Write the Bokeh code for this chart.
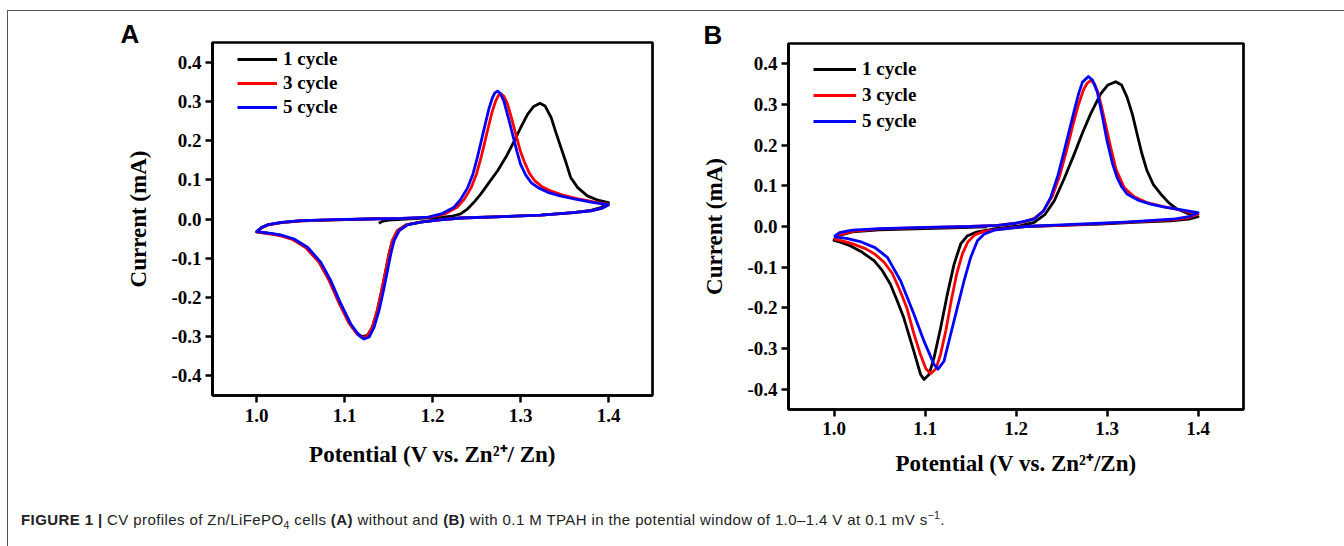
from bokeh.plotting import figure
from bokeh.layouts import column, row
from bokeh.models import FixedTicker, Div, InlineStyleSheet
from bokeh.embed import file_html
from bokeh.resources import INLINE

# ---------------- data ----------------
x_ticks = [1.0, 1.1, 1.2, 1.3, 1.4]
x_tick_labels = ["1.0", "1.1", "1.2", "1.3", "1.4"]
y_ticks = [-0.4, -0.3, -0.2, -0.1, 0.0, 0.1, 0.2, 0.3, 0.4]
y_tick_labels = ["-0.4", "-0.3", "-0.2", "-0.1", "0.0", "0.1", "0.2", "0.3", "0.4"]
series_names = ["1 cycle", "3 cycle", "5 cycle"]
series_colors = ["#000000", "#ff0000", "#0000ff"]

# Panel A (without TPAH)
a1_v = [1.139, 1.143, 1.150, 1.165, 1.190, 1.210, 1.222, 1.232, 1.240, 1.248, 1.255, 1.264, 1.274, 1.284,
        1.293, 1.300, 1.308, 1.315, 1.322, 1.328, 1.335, 1.340, 1.346, 1.352, 1.357, 1.365, 1.376, 1.388,
        1.400, 1.392, 1.380, 1.360, 1.323, 1.280, 1.232, 1.208, 1.186, 1.170, 1.160, 1.1544, 1.1506, 1.1469,
        1.1423, 1.1373, 1.1316, 1.126, 1.120, 1.1146, 1.105, 1.0938, 1.0824, 1.071, 1.056, 1.0407, 1.028,
        1.018, 1.008, 1.000, 1.006, 1.013, 1.028, 1.051, 1.089, 1.127, 1.140]
a1_i = [-0.011, -0.006, -0.003, -0.001, 0.002, 0.004, 0.007, 0.013, 0.026, 0.045, 0.064, 0.092, 0.123, 0.160,
        0.199, 0.232, 0.267, 0.287, 0.295, 0.288, 0.258, 0.222, 0.182, 0.142, 0.106, 0.080, 0.059, 0.048,
        0.042, 0.030, 0.022, 0.016, 0.010, 0.006, 0.0025, -0.002, -0.008, -0.015, -0.030, -0.055, -0.089, -0.131,
        -0.182, -0.233, -0.276, -0.297, -0.300, -0.292, -0.264, -0.213, -0.155, -0.109, -0.072, -0.051, -0.042,
        -0.038, -0.035, -0.033, -0.022, -0.015, -0.009, -0.0045, -0.002, 0.000, 0.001]

a3_v = [1.000, 1.006, 1.013, 1.028, 1.051, 1.089, 1.127, 1.165, 1.198, 1.214, 1.228, 1.236, 1.244, 1.250,
        1.255, 1.259, 1.263, 1.268, 1.272, 1.275, 1.278, 1.281, 1.285, 1.290, 1.295, 1.300, 1.304, 1.310,
        1.316, 1.324, 1.335, 1.348, 1.364, 1.382, 1.400, 1.392, 1.380, 1.360, 1.323, 1.280, 1.232, 1.208,
        1.186, 1.170, 1.160, 1.1544, 1.1506, 1.1469, 1.1423, 1.1373, 1.1316, 1.126, 1.1203, 1.1146, 1.105,
        1.0938, 1.0824, 1.071, 1.056, 1.0407, 1.028, 1.018, 1.008, 1.000]
a3_i = [-0.033, -0.022, -0.015, -0.009, -0.0045, -0.002, 0.000, 0.0015, 0.005, 0.013, 0.030, 0.050, 0.080, 0.115,
        0.155, 0.192, 0.230, 0.275, 0.302, 0.315, 0.319, 0.313, 0.295, 0.256, 0.213, 0.172, 0.148, 0.117,
        0.098, 0.083, 0.071, 0.061, 0.052, 0.044, 0.037, 0.027, 0.021, 0.016, 0.010, 0.006, 0.0025, -0.002,
        -0.008, -0.015, -0.030, -0.055, -0.089, -0.131, -0.182, -0.233, -0.276, -0.299, -0.302, -0.294, -0.265,
        -0.214, -0.156, -0.110, -0.073, -0.052, -0.043, -0.039, -0.036, -0.033]

a5_v = [1.000, 1.006, 1.013, 1.028, 1.051, 1.089, 1.127, 1.165, 1.195, 1.210, 1.2245, 1.232, 1.240, 1.246,
        1.251, 1.255, 1.259, 1.264, 1.268, 1.271, 1.274, 1.277, 1.281, 1.286, 1.291, 1.296, 1.300, 1.306,
        1.312, 1.320, 1.331, 1.345, 1.361, 1.380, 1.400, 1.392, 1.380, 1.360, 1.323, 1.280, 1.232, 1.208,
        1.1867, 1.1716, 1.162, 1.1564, 1.1526, 1.1489, 1.1443, 1.1393, 1.1336, 1.128, 1.1223, 1.1166, 1.107,
        1.0958, 1.0844, 1.073, 1.058, 1.0427, 1.030, 1.020, 1.010, 1.000]
a5_i = [-0.032, -0.021, -0.0145, -0.0086, -0.004, -0.0017, 0.000, 0.0017, 0.005, 0.013, 0.030, 0.050, 0.080, 0.115,
        0.157, 0.195, 0.233, 0.280, 0.309, 0.322, 0.326, 0.320, 0.301, 0.260, 0.216, 0.172, 0.140, 0.112,
        0.093, 0.080, 0.068, 0.059, 0.051, 0.043, 0.036, 0.027, 0.021, 0.016, 0.010, 0.006, 0.0025, -0.002,
        -0.008, -0.015, -0.030, -0.055, -0.089, -0.131, -0.182, -0.233, -0.276, -0.301, -0.306, -0.297, -0.267,
        -0.216, -0.157, -0.110, -0.072, -0.051, -0.042, -0.038, -0.035, -0.032]

# Panel B (with 0.1 M TPAH)
b1_v = [1.168, 1.175, 1.190, 1.205, 1.220, 1.232, 1.242, 1.253, 1.264, 1.273, 1.282, 1.293, 1.301, 1.3096,
        1.316, 1.322, 1.328, 1.333, 1.338, 1.344, 1.351, 1.359, 1.368, 1.377, 1.390, 1.400, 1.390, 1.370,
        1.330, 1.293, 1.250, 1.210, 1.190, 1.1685, 1.1575, 1.1465, 1.1392, 1.1319, 1.1245, 1.1172, 1.1099,
        1.1044, 1.0989, 1.0952, 1.0876, 1.0766, 1.069, 1.062, 1.053, 1.044, 1.030, 1.0183, 1.008, 1.000,
        1.006, 1.020, 1.050, 1.100, 1.150, 1.168]
b1_i = [-0.010, -0.006, -0.002, 0.002, 0.010, 0.030, 0.063, 0.118, 0.178, 0.230, 0.277, 0.326, 0.348, 0.356,
        0.348, 0.318, 0.275, 0.228, 0.182, 0.137, 0.103, 0.080, 0.058, 0.043, 0.031, 0.024, 0.018, 0.014,
        0.010, 0.006, 0.003, 0.000, -0.003, -0.009, -0.013, -0.023, -0.043, -0.093, -0.167, -0.249, -0.323,
        -0.364, -0.376, -0.364, -0.306, -0.224, -0.180, -0.142, -0.108, -0.084, -0.062, -0.048, -0.039, -0.034,
        -0.022, -0.013, -0.008, -0.005, -0.002, -0.001]

b3_v = [1.000, 1.006, 1.020, 1.050, 1.100, 1.150, 1.180, 1.200, 1.210, 1.220, 1.230, 1.240, 1.248, 1.256,
        1.262, 1.268, 1.274, 1.278, 1.282, 1.286, 1.290, 1.294, 1.299, 1.304, 1.310, 1.319, 1.330, 1.345,
        1.362, 1.380, 1.400, 1.390, 1.375, 1.350, 1.320, 1.293, 1.250, 1.210, 1.180, 1.165, 1.155, 1.147,
        1.141, 1.135, 1.129, 1.123, 1.117, 1.112, 1.1062, 1.101, 1.095, 1.088, 1.080, 1.072, 1.064, 1.055,
        1.045, 1.035, 1.020, 1.010, 1.000]
b3_i = [-0.031, -0.020, -0.012, -0.006, -0.003, 0.000, 0.003, 0.008, 0.012, 0.020, 0.038, 0.075, 0.125, 0.190,
        0.245, 0.295, 0.335, 0.352, 0.359, 0.352, 0.330, 0.295, 0.245, 0.195, 0.140, 0.095, 0.073, 0.058,
        0.049, 0.041, 0.030, 0.022, 0.017, 0.014, 0.010, 0.007, 0.003, 0.000, -0.007, -0.012, -0.020, -0.038,
        -0.068, -0.115, -0.180, -0.255, -0.315, -0.350, -0.362, -0.350, -0.315, -0.265, -0.200, -0.155, -0.115,
        -0.088, -0.068, -0.055, -0.042, -0.036, -0.031]

b5_v = [1.000, 1.006, 1.020, 1.050, 1.100, 1.150, 1.180, 1.200, 1.2198, 1.230, 1.238, 1.246, 1.253, 1.259,
        1.264, 1.269, 1.273, 1.2796, 1.284, 1.2894, 1.295, 1.300, 1.306, 1.311, 1.316, 1.322, 1.335, 1.348,
        1.362, 1.377, 1.390, 1.400, 1.390, 1.375, 1.350, 1.320, 1.293, 1.250, 1.210, 1.1758, 1.1648, 1.1576,
        1.1502, 1.1429, 1.1356, 1.1282, 1.1209, 1.1143, 1.1099, 1.0989, 1.0879, 1.0733, 1.0587, 1.045, 1.030,
        1.015, 1.000]
b5_i = [-0.025, -0.015, -0.009, -0.005, -0.002, 0.000, 0.003, 0.008, 0.018, 0.038, 0.071, 0.125, 0.186, 0.240,
        0.285, 0.328, 0.355, 0.369, 0.360, 0.330, 0.270, 0.211, 0.155, 0.121, 0.098, 0.080, 0.064, 0.055,
        0.048, 0.043, 0.038, 0.034, 0.024, 0.019, 0.015, 0.011, 0.008, 0.004, 0.000, -0.009, -0.019, -0.035,
        -0.076, -0.134, -0.199, -0.265, -0.331, -0.351, -0.339, -0.282, -0.216, -0.134, -0.076, -0.052, -0.038,
        -0.030, -0.025]

panel_a = [(a1_v, a1_i), (a3_v, a3_i), (a5_v, a5_i)]
panel_b = [(b1_v, b1_i), (b3_v, b3_i), (b5_v, b5_i)]

SERIF = "Liberation Serif"


def make_panel(series, letter, xlabel, width, height, bl, br, bt, bb,
               legend_loc, glyph_w, item_h, tick_standoff, xlab_standoff, letter_offset):
    p = figure(width=width, height=height, x_range=(0.95, 1.45), y_range=(-0.45, 0.45),
               output_backend="svg", toolbar_location=None,
               min_border_left=bl, min_border_right=br, min_border_top=bt, min_border_bottom=bb)
    p.grid.visible = False
    p.outline_line_color = "black"
    p.outline_line_width = 2.7
    p.outline_line_alpha = 1.0
    p.background_fill_color = "white"
    p.border_fill_color = "white"
    for (v, i), name, col in zip(series, series_names, series_colors):
        p.line(v, i, line_color=col, line_width=2.8, line_join="round", legend_label=name)
    for ax in (p.xaxis[0], p.yaxis[0]):
        ax.axis_line_width = 2.7
        ax.axis_line_color = "black"
        ax.major_tick_line_width = 2.5
        ax.major_tick_line_color = "black"
        ax.major_tick_out = 7
        ax.major_tick_in = 0
        ax.minor_tick_line_color = None
        ax.major_label_text_font = SERIF
        ax.major_label_text_font_style = "bold"
        ax.major_label_text_font_size = "19px"
        ax.major_label_text_color = "black"
        ax.axis_label_text_font = SERIF
        ax.axis_label_text_font_style = "bold"
        ax.axis_label_text_font_size = "23px"
        ax.axis_label_text_color = "black"
    p.xaxis.ticker = FixedTicker(ticks=x_ticks)
    p.yaxis.ticker = FixedTicker(ticks=y_ticks)
    p.xaxis.major_label_overrides = dict(zip(x_ticks, x_tick_labels))
    p.yaxis.major_label_overrides = dict(zip(y_ticks, y_tick_labels))
    p.xaxis.axis_label = xlabel
    p.yaxis.axis_label = "Current (mA)"
    p.xaxis.major_label_standoff = tick_standoff
    p.yaxis.major_label_standoff = 4
    p.xaxis.axis_label_standoff = xlab_standoff
    p.yaxis.axis_label_standoff = 17

    lg = p.legend[0]
    lg.location = legend_loc
    lg.border_line_color = None
    lg.background_fill_alpha = 0
    lg.padding = 0
    lg.margin = 0
    lg.spacing = 0
    lg.glyph_width = glyph_w
    lg.glyph_height = item_h
    lg.label_height = item_h
    lg.label_standoff = 6
    lg.label_text_font = SERIF
    lg.label_text_font_style = "bold"
    lg.label_text_font_size = "19px"
    lg.label_text_color = "black"

    # panel letter drawn as the plot title
    p.title.text = letter
    p.title.align = "left"
    p.title.offset = letter_offset
    p.title.standoff = -13
    p.title.text_font = "Liberation Sans"
    p.title.text_font_style = "bold"
    p.title.text_font_size = "26px"
    p.title.text_color = "black"
    return p


pa = make_panel(panel_a, "A", "Potential (V vs. Zn\u00b2\u207a/ Zn)", 680, 490, 212, 28, 42, 95,
                (25, 276), 40, 24, 6, 17, -92)
pb = make_panel(panel_b, "B", "Potential (V vs. Zn\u00b2\u207a/Zn)", 664, 504, 108, 101, 43, 95,
                (25, 275), 43, 26, 5, 13, -85)

caption_html = (
    '<div style="padding:2px 0 0 21px; font-family:\'Liberation Sans\',sans-serif;'
    ' font-size:15px; letter-spacing:0.4px; color:#222; white-space:nowrap; line-height:18px;">'
    '<b>FIGURE 1 |</b> CV profiles of Zn/LiFePO<sub style="font-size:70%">4</sub> cells <b>(A)</b> without and '
    '<b>(B)</b> with 0.1 M TPAH in the potential window of 1.0\u20131.4 V at 0.1 mV s'
    '<sup style="font-size:70%">\u22121</sup>.</div>'
)
cap = Div(text=caption_html, width=1344, height=30, margin=(0, 0, 0, 0))

frame_css = InlineStyleSheet(css="""
:host { position: relative; }
:host::after { content: ''; position: absolute; left: 7px; top: 10px; width: 1337px; height: 540px;
  border-top: 1px solid #555; border-left: 1px solid #555; pointer-events: none; }
""")

layout = column(row(column(pa), column(pb)), cap, stylesheets=[frame_css])
open("out.html", "w").write(file_html(layout, INLINE))
